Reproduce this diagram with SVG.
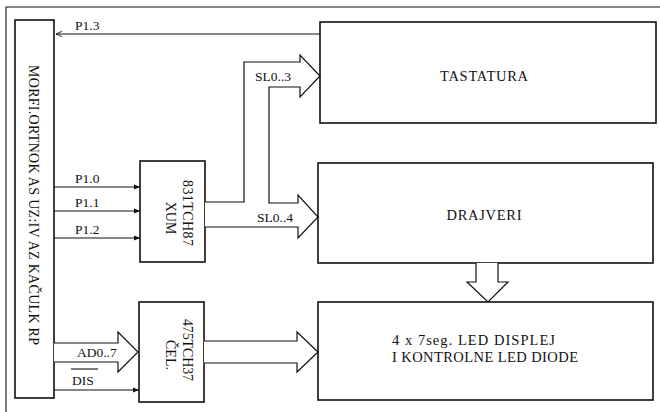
<svg xmlns="http://www.w3.org/2000/svg" width="660" height="412" viewBox="0 0 660 412">
<defs>
<style>
.box{fill:none;stroke:#111;stroke-width:1.6}
.ln{fill:none;stroke:#111;stroke-width:1.1}
.big{fill:#fff;stroke:#111;stroke-width:1.2;stroke-linejoin:miter}
text{font-family:"Liberation Serif","Times New Roman",serif;fill:#111}
.lbl{font-size:13.5px}
.rot{font-size:14px}
.t{font-size:14.5px}
</style>
<marker id="ah" viewBox="0 0 10 10" refX="10" refY="5" markerWidth="6" markerHeight="6" orient="auto" markerUnits="userSpaceOnUse">
<path d="M0,1 L10,5 L0,9 Z" fill="#111"/>
</marker>
<marker id="ao" viewBox="0 0 10 10" refX="9" refY="5" markerWidth="7" markerHeight="7" orient="auto" markerUnits="userSpaceOnUse">
<path d="M0,1 L9,5 L0,9" fill="none" stroke="#111" stroke-width="1.2"/>
</marker>
</defs>
<rect width="660" height="412" fill="#fff"/>
<path class="ln" d="M6,412 V7 H660"/>

<g id="mcu">
<rect class="box" x="15" y="20" width="39" height="378"/>
<text transform="translate(29,205) rotate(90)" text-anchor="middle" font-size="14" textLength="280" lengthAdjust="spacing">MORFI.ORTNOK AS UZ:IV AZ KAČULK RP</text>
</g>

<g id="mux">
<rect class="box" x="140" y="161" width="65" height="101"/>
<text class="rot" transform="translate(183,213) rotate(90)" text-anchor="middle" textLength="66" lengthAdjust="spacing">831TCH87</text>
<text class="rot" transform="translate(166,218) rotate(90)" text-anchor="middle">XUM</text>
</g>

<g id="latch">
<rect class="box" x="139" y="302" width="65" height="100"/>
<text class="rot" transform="translate(183,350) rotate(90)" text-anchor="middle" textLength="62" lengthAdjust="spacing">475TCH37</text>
<text class="rot" transform="translate(166,355) rotate(90)" text-anchor="middle">ČEL.</text>
</g>

<g id="tastatura">
<rect class="box" x="320" y="22" width="336" height="101"/>
<text class="t" x="484" y="81" text-anchor="middle" textLength="88" lengthAdjust="spacing">TASTATURA</text>
</g>

<g id="drajveri">
<rect class="box" x="318" y="163" width="335" height="100"/>
<text class="t" x="484" y="220" text-anchor="middle" textLength="75" lengthAdjust="spacing">DRAJVERI</text>
</g>

<g id="display">
<rect class="box" x="318" y="302" width="335" height="98"/>
<text class="t" x="392" y="345" textLength="163" lengthAdjust="spacing">4 x 7seg. LED DISPLEJ</text>
<text class="t" x="392" y="362" textLength="186" lengthAdjust="spacing">I KONTROLNE LED DIODE</text>
</g>

<g id="connectors">
<path class="ln" d="M320,34 H56" marker-end="url(#ao)"/>
<text class="lbl" x="75" y="30">P1.3</text>

<path class="ln" d="M54,187 H140" marker-end="url(#ah)"/>
<text class="lbl" x="75" y="183">P1.0</text>
<path class="ln" d="M54,211 H140" marker-end="url(#ah)"/>
<text class="lbl" x="75" y="207">P1.1</text>
<path class="ln" d="M54,238 H140" marker-end="url(#ah)"/>
<text class="lbl" x="75" y="234">P1.2</text>

<path class="big" d="M205,202 H244 V62 H300 V55 L320,76 L300,97 V87 H269 V203 H298 V195 L318,217 L298,238 V227 H205"/>
<text class="lbl" x="255" y="81">SL0..3</text>
<text class="lbl" x="257" y="222">SL0..4</text>

<path class="big" d="M476,263 V282 H467 L488,302 L508,282 H498 V263"/>

<path class="big" d="M54,343 H118 V332 L138,352 L118,372 V362 H54"/>
<text class="lbl" x="77" y="357">AD0..7</text>
<path class="ln" d="M71,369 H98"/>
<text class="lbl" x="72" y="385">DIS</text>
<path class="ln" d="M54,390 H139" marker-end="url(#ah)"/>

<path class="big" d="M204,341 H297 V332 L318,352 L297,372 V363 H204"/>
</g>
</svg>
